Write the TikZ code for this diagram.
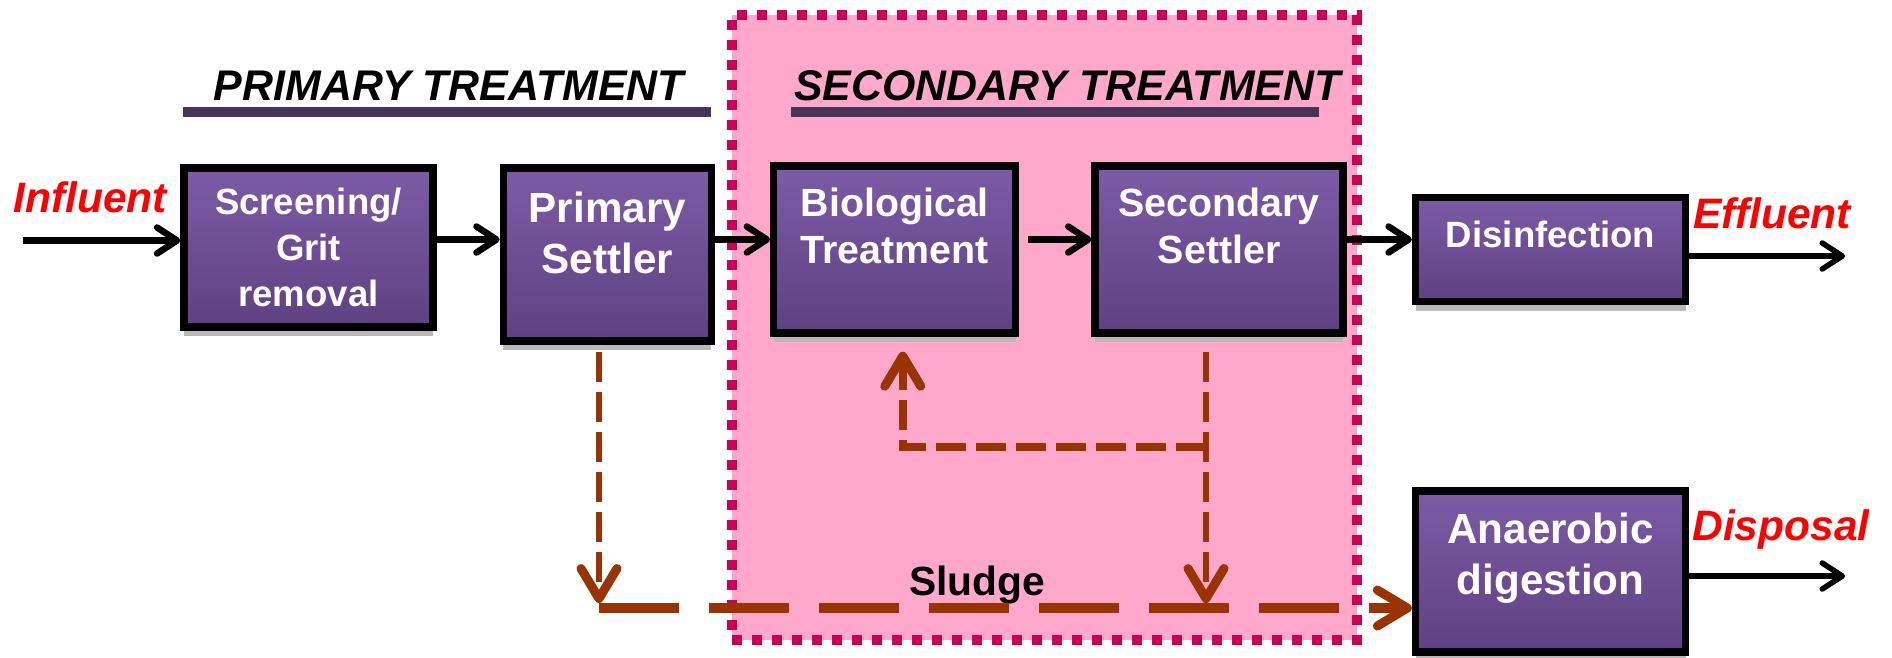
\documentclass[tikz,border=0pt]{standalone}
\usepackage{fontspec}
\setsansfont{Liberation Sans}
\usetikzlibrary{positioning, arrows.meta, shadows}
\definecolor{boxtop}{RGB}{124,91,166}
\definecolor{boxbottom}{RGB}{94,65,130}
\definecolor{stagepink}{RGB}{255,168,204}
\definecolor{stageedge}{RGB}{204,0,85}
\definecolor{rulepurple}{RGB}{70,52,88}
\definecolor{sludgebrown}{RGB}{153,51,0}
\tikzset{
  unit/.style={
    draw=black, line width=2.1pt, top color=boxtop, bottom color=boxbottom,
    text=white, align=center, inner sep=2pt,
    drop shadow={shadow xshift=0pt, shadow yshift=-0.09cm, fill=gray!55, opacity=1}
  },
  unitS/.style={unit, font=\sffamily\bfseries\fontsize{10.4}{13.1}\selectfont},
  unitM/.style={unit, font=\sffamily\bfseries\fontsize{11.2}{13.4}\selectfont},
  unitL/.style={unit, font=\sffamily\bfseries\fontsize{12}{14.4}\selectfont},
  stage/.style={draw=stageedge, fill=stagepink, line width=2.6pt, dash pattern=on 0.10cm off 0.10cm},
  stagetitle/.style={font=\sffamily\bfseries\itshape\fontsize{12.2}{14.6}\selectfont, inner sep=0pt, anchor=base},
  underline/.style={draw=rulepurple, line width=0.1cm},
  flow/.style={-{Straight Barb[length=0.2cm, width=0.26cm, round]}, line width=0.065cm},
  flowthin/.style={flow, line width=0.055cm},
  tag/.style={font=\sffamily\bfseries\itshape\fontsize{12.1}{14.5}\selectfont, text=red, inner sep=0pt, anchor=base},
  sludgetag/.style={font=\sffamily\bfseries\fontsize{11.6}{14}\selectfont, inner sep=0pt, anchor=base},
  sludge/.style={draw=sludgebrown, line width=0.06cm, dash pattern=on 0.3cm off 0.1cm,
    -{Straight Barb[length=0.3cm, width=0.36cm, round, line width=0.09cm]}},
  sludgemain/.style={sludge, line width=0.1cm, dash pattern=on 0.8cm off 0.3cm}
}

\begin{document}
\begin{tikzpicture}
  \useasboundingbox (0,0) rectangle (18.92,-6.57);
  % secondary stage backdrop
  \node[stage, minimum width=6.25cm, minimum height=6.25cm] (secstage) at (10.445,-3.275) {};
  \node[stagetitle] (ptitle) at (4.49,-1.00) {PRIMARY TREATMENT};
  \node[stagetitle] (stitle) at (10.675,-1.00) {SECONDARY TREATMENT};
  \draw[underline] (1.83,-1.12) -- (7.11,-1.12);
  \draw[underline] (7.91,-1.12) -- (13.19,-1.12);

  % process units
  \node[unitS, minimum width=2.49cm, minimum height=1.59cm] (screen) at (3.085,-2.475) {Screening/\\Grit\\removal};
  \node[unitL, minimum width=2.08cm, minimum height=1.73cm, text depth=0.43cm, right=0.63cm of screen, yshift=-0.07cm] (primary) {Primary\\Settler};
  \node[unitM, minimum width=2.42cm, minimum height=1.67cm, text depth=0.48cm, right=0.55cm of primary, yshift=0.05cm] (bio) {Biological\\Treatment};
  \node[unitM, minimum width=2.48cm, minimum height=1.67cm, text depth=0.48cm, right=0.72cm of bio] (sec) {Secondary\\Settler};
  \node[unitS, minimum width=2.70cm, minimum height=1.04cm, text depth=0.31cm, right=0.65cm of sec] (disinf) {Disinfection};
  \node[unitL, minimum width=2.70cm, minimum height=1.61cm, text depth=0.35cm, below=1.82cm of disinf] (anaer) {Anaerobic\\digestion};

  \node[tag] (influent) at (0.90,-2.12) {Influent};
  \node[tag] (effluent) at (17.72,-2.28) {Effluent};
  \node[tag] (disposal) at (17.81,-5.40) {Disposal};
  \node[sludgetag] (sludge) at (9.77,-5.95) {Sludge};

  \coordinate (flowline) at (0,-2.395);
  \coordinate (inlet) at (0.23,-2.405);
  \coordinate (outlet) at (18.45,-2.56);
  \coordinate (dump) at (18.45,-5.76);
  \coordinate (corner) at (5.99,-6.08);
  \coordinate (tap) at (12.06,-4.47);

  % water line
  \draw[flow] (inlet) -- (inlet -| screen.west);
  \draw[flow] (screen.east |- flowline) -- (primary.west |- flowline);
  \draw[flow] (primary.east |- flowline) -- (bio.west |- flowline);
  \draw[flow] ([xshift=0.09cm]bio.east |- flowline) -- (sec.west |- flowline);
  \draw[flow] (sec.east |- flowline) -- (disinf.west |- flowline);
  \draw[flowthin] (disinf.east |- outlet) -- (outlet);
  \draw[flowthin] (anaer.east |- dump) -- (dump);

  % sludge line
  \draw[sludge] ([yshift=-0.07cm]primary.south -| corner) -- ([yshift=0.05cm]corner);
  \draw[sludgemain] (corner) -- (corner -| anaer.west);
  \draw[sludge] ([yshift=-0.15cm]sec.south -| tap) -- ([yshift=0.05cm]tap |- corner);
  \draw[sludge, line width=0.08cm] (tap) -| ([xshift=0.08cm,yshift=-0.15cm]bio.south);
\end{tikzpicture}
\end{document}
